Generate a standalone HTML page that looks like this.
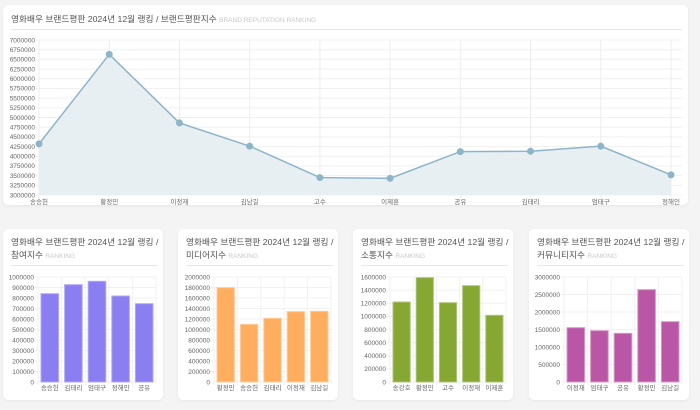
<!DOCTYPE html>
<html><head><meta charset="utf-8">
<style>
body{margin:0;width:700px;height:410px;background:#f4f4f4;font-family:"Liberation Sans","Noto Sans CJK KR",sans-serif;position:relative;overflow:hidden}
.card{position:absolute;background:#fff;border-radius:5px;box-shadow:0 1px 3px rgba(0,0,0,.06)}
.t{position:absolute;color:#555;font-size:8.7px;line-height:13px;white-space:nowrap}
.t small{color:#c8c8c8;font-size:6.5px}
.sep{position:absolute;height:1px;background:#e8e8e8}
svg{position:absolute;left:0;top:0}
svg text{font-family:"Liberation Sans","Noto Sans CJK KR",sans-serif;font-size:6.5px;fill:#666}
</style></head><body>
<div class="card" style="left:3px;top:5px;width:685px;height:200px">
<div class="t" style="left:8px;top:8px">영화배우 브랜드평판 2024년 12월 랭킹 / 브랜드평판지수 <small>BRAND REPUTATION RANKING</small></div>
<div class="sep" style="left:8px;top:24px;width:671px"></div></div>
<div class="card" style="left:3px;top:229px;width:160px;height:171px">
<div class="t" style="left:8px;top:7px">영화배우 브랜드평판 2024년 12월 랭킹 /<br>참여지수 <small>RANKING</small></div>
<div class="sep" style="left:8px;top:36px;width:147px"></div></div>
<div class="card" style="left:178px;top:229px;width:160px;height:171px">
<div class="t" style="left:8px;top:7px">영화배우 브랜드평판 2024년 12월 랭킹 /<br>미디어지수 <small>RANKING</small></div>
<div class="sep" style="left:8px;top:36px;width:147px"></div></div>
<div class="card" style="left:353px;top:229px;width:160px;height:171px">
<div class="t" style="left:8px;top:7px">영화배우 브랜드평판 2024년 12월 랭킹 /<br>소통지수 <small>RANKING</small></div>
<div class="sep" style="left:8px;top:36px;width:147px"></div></div>
<div class="card" style="left:529px;top:229px;width:160px;height:171px">
<div class="t" style="left:8px;top:7px">영화배우 브랜드평판 2024년 12월 랭킹 /<br>커뮤니티지수 <small>RANKING</small></div>
<div class="sep" style="left:8px;top:36px;width:147px"></div></div>
<svg id="s" width="700" height="410" xmlns="http://www.w3.org/2000/svg"></svg>
<script>
const lineCats=["송승헌","황정민","이정재","김남길","고수","이제훈","공유","김태리","엄태구","정해인"];
const lineVals=[4320000,6630000,4860000,4260000,3450000,3430000,4120000,4130000,4260000,3520000];
const lineMin=3000000, lineMax=7000000, lineStep=250000;
const c1Cats=["송승헌","김태리","엄태구","정해인","공유"];
const c1Vals=[841000,927000,959000,819000,746000];
const c2Cats=["황정민","송승헌","김태리","이정재","김남길"];
const c2Vals=[1797000,1098000,1213000,1340000,1346000];
const c3Cats=["송강호","황정민","고수","이정재","이제훈"];
const c3Vals=[1219000,1590000,1209000,1468000,1016000];
const c4Cats=["이정재","엄태구","공유","황정민","김남길"];
const c4Vals=[1552000,1467000,1390000,2638000,1724000];
const c1Ticks=[0,100000,200000,300000,400000,500000,600000,700000,800000,900000,1000000];
const c2Ticks=[0,200000,400000,600000,800000,1000000,1200000,1400000,1600000,1800000,2000000];
const c3Ticks=[0,200000,400000,600000,800000,1000000,1200000,1400000,1600000];
const c4Ticks=[0,500000,1000000,1500000,2000000,2500000,3000000];

const s=document.getElementById('s');const NS='http://www.w3.org/2000/svg';
function mk(tag,a,txt){const e=document.createElementNS(NS,tag);for(const k in a)e.setAttribute(k,a[k]);if(txt!=null)e.textContent=txt;s.appendChild(e);return e;}

const L={x0:39,x1:671,y0:195,y1:40,r:682};
const ly=v=>L.y0-(v-lineMin)/(lineMax-lineMin)*(L.y0-L.y1);
const lx=i=>L.x0+i*(L.x1-L.x0)/(lineCats.length-1);
for(let v=lineMin;v<=lineMax;v+=lineStep){
 const g=mk('line',{x1:L.x0-3,x2:L.r,y1:ly(v),y2:ly(v),stroke:'#f0f0f0','stroke-width':1});
 
 const t=mk('text',{x:L.x0-4,y:ly(v)+2.3,'text-anchor':'end'},String(v));
 
}
lineCats.forEach((c,i)=>{
 mk('line',{x1:lx(i),x2:lx(i),y1:L.y1,y2:L.y0+3,stroke:'#eeeeee'});
 const t=mk('text',{x:lx(i),y:204,'text-anchor':'middle'},c);
 
});
let pts=lineVals.map((v,i)=>lx(i)+','+ly(v)).join(' ');
const area=mk('polygon',{points:lx(0)+','+L.y0+' '+pts+' '+lx(lineVals.length-1)+','+L.y0,fill:'#e7eff3'});

const pl=mk('polyline',{points:pts,fill:'none',stroke:'#8cb5c9','stroke-width':1.5});

lineVals.forEach((v,i)=>{const p=mk('circle',{cx:lx(i),cy:ly(v),r:3.5,fill:'#8cb5c9'});
 });

function bar(cats,vals,ticks,x0,x1,color,stroke,id){
 const y0=382,y1=277,max=ticks[ticks.length-1];
 const y=v=>y0-v/max*(y0-y1);const w=(x1-x0)/cats.length;
 ticks.forEach(v=>{mk('line',{x1:x0-3,x2:x1,y1:y(v),y2:y(v),stroke:'#f0f0f0'});
  const t=mk('text',{x:x0-4,y:y(v)+2.3,'text-anchor':'end'},String(v));
  });
 for(let i=0;i<=cats.length;i++)mk('line',{x1:x0+i*w,x2:x0+i*w,y1:y1,y2:y0+3,stroke:'#f2f2f2'});
 cats.forEach((c,i)=>{
  const r=mk('rect',{x:x0+i*w+3,y:y(vals[i]),width:w-6,height:y0-y(vals[i]),fill:color,stroke:stroke,'stroke-width':1});
  
  const t=mk('text',{x:x0+i*w+w/2,y:390,'text-anchor':'middle'},c);
  
 });
}
bar(c1Cats,c1Vals,c1Ticks,38,156,'#8a7ef0','#b3aaf7','participation');
bar(c2Cats,c2Vals,c2Ticks,214,331,'#ffad5e','#ffcc99','media');
bar(c3Cats,c3Vals,c3Ticks,390,506,'#86a832','#aec57a','communication');
bar(c4Cats,c4Vals,c4Ticks,564,682,'#b957a6','#d898cb','community');
</script>
</body></html>
